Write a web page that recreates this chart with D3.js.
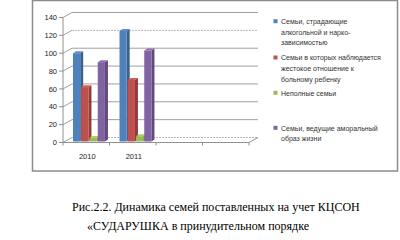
<!DOCTYPE html>
<html><head><meta charset="utf-8">
<script src="https://cdn.jsdelivr.net/npm/d3@7"></script>
<style>html,body{margin:0;padding:0;background:#fff;}svg{display:block;}</style>
</head><body>
<svg id="c" width="400" height="240"></svg>
<script>
const categories = ["2010", "2011", "", ""];
const seriesNames = [
  ["Семьи, страдающие", "алкогольной и нарко-", "зависимостью"],
  ["Семьи в которых наблюдается", "жестокое отношение к", "больному ребенку"],
  ["Неполные семьи"],
  ["Семьи, ведущие аморальный", "образ жизни"]
];
const seriesColors = ["#4F81BD", "#C0504D", "#9BBB59", "#8064A2"];
const values2010 = [100, 62, 5, 90];
const values2011 = [125, 70, 7, 103];
const yTicks = [0, 20, 40, 60, 80, 100, 120, 140];
const captionLines = ["Рис.2.2. Динамика семей поставленных на учет КЦСОН", "«СУДАРУШКА в принудительном порядке"];

const data = [values2010, values2011, null, null];
const svg = d3.select("#c");
const DX = 9, DY = -5;
const y = d3.scaleLinear().domain([0, 140]).range([142.5, 17.5]);
const x0 = d3.scaleBand().domain(d3.range(categories.length)).range([63, 249]);
const x1 = d3.scaleBand().domain(d3.range(4)).range([0, 33]);

// frame
svg.append("rect").attr("x", 32.5).attr("y", 0.5).attr("width", 365).attr("height", 170.5)
  .attr("fill", "none").attr("stroke", "#8c8c8c").attr("stroke-width", 1.5);

const g = svg.append("g");
yTicks.forEach(t => {
  const yy = y(t);
  const dashed = (t === 120 || t === 0);
  g.append("line").attr("x1", 63).attr("y1", yy).attr("x2", 63 + DX).attr("y2", yy + DY)
    .attr("stroke", "#a0a0a0").attr("stroke-width", 1);
  g.append("line").attr("x1", 63 + DX).attr("y1", yy + DY).attr("x2", 249 + DX).attr("y2", yy + DY)
    .attr("stroke", dashed ? "#b8b8b8" : "#a0a0a0").attr("stroke-width", 1)
    .attr("stroke-dasharray", dashed ? "2,1" : null);
});
g.append("line").attr("x1", 63).attr("y1", y(0)).attr("x2", 249).attr("y2", y(0)).attr("stroke", "#909090");
g.append("line").attr("x1", 249).attr("y1", y(0)).attr("x2", 249 + DX).attr("y2", y(0) + DY).attr("stroke", "#909090");
g.append("line").attr("x1", 63).attr("y1", y(140)).attr("x2", 63).attr("y2", y(0)).attr("stroke", "#909090");
yTicks.forEach(t => {
  g.append("line").attr("x1", 59).attr("y1", y(t)).attr("x2", 63).attr("y2", y(t)).attr("stroke", "#909090");
  g.append("text").attr("x", 57).attr("y", y(t)).attr("dy", "0.35em").attr("text-anchor", "end")
    .attr("font-family", "Liberation Sans, Arial, sans-serif").attr("font-size", 7.5).attr("fill", "#222").text(t);
});
d3.range(categories.length + 1).forEach(i => {
  const xx = i < categories.length ? x0(i) : x0.range()[1];
  g.append("line").attr("x1", xx).attr("y1", y(0)).attr("x2", xx).attr("y2", y(0) + 3).attr("stroke", "#909090");
});
categories.forEach((c, i) => {
  g.append("text").attr("x", x0(i) + x0.bandwidth() / 2 + 1).attr("y", 156).attr("dy", "0.35em")
    .attr("text-anchor", "middle").attr("font-family", "Liberation Sans, Arial, sans-serif")
    .attr("font-size", 7.5).attr("fill", "#222").text(c);
});

function shade(c, k) { return d3.color(c).darker(k).formatHex(); }
data.forEach((vals, ci) => {
  if (!vals) return;
  vals.forEach((v, si) => {
    const w = 7.2, sd = 3, st = -2;
    const bx = x0(ci) + 10 + x1(si);
    const bottom = y(0) - 1;
    const top = y(v);
    const col = seriesColors[si];
    g.append("polygon").attr("points", [[bx + w, top], [bx + w + sd, top + st], [bx + w + sd, bottom + st], [bx + w, bottom]].join(" "))
      .attr("fill", shade(col, 0.8));
    g.append("polygon").attr("points", [[bx, top], [bx + sd, top + st], [bx + w + sd, top + st], [bx + w, top]].join(" "))
      .attr("fill", d3.color(col).brighter(0.3).formatHex());
    g.append("rect").attr("x", bx).attr("y", top).attr("width", w).attr("height", bottom - top).attr("fill", col);
  });
});

const legendY = [21.7, 58, 93.3, 128.3];
seriesNames.forEach((lines, i) => {
  svg.append("rect").attr("x", 273.5).attr("y", legendY[i] - 2.5).attr("width", 4).attr("height", 4).attr("fill", seriesColors[i]);
  lines.forEach((ln, k) => {
    svg.append("text").attr("x", 281).attr("y", legendY[i] + k * 10.6).attr("dy", "0.35em")
      .attr("font-family", "Liberation Sans, Arial, sans-serif").attr("font-size", 7.0).attr("fill", "#333").text(ln);
  });
});

svg.append("text").attr("x", 72).attr("y", 211).attr("font-family", "Liberation Serif, Times New Roman, serif")
  .attr("font-size", 12).attr("fill", "#000").text(captionLines[0]);
svg.append("text").attr("x", 87).attr("y", 229.5).attr("font-family", "Liberation Serif, Times New Roman, serif")
  .attr("font-size", 12).attr("fill", "#000").text(captionLines[1]);
</script>
</body></html>
